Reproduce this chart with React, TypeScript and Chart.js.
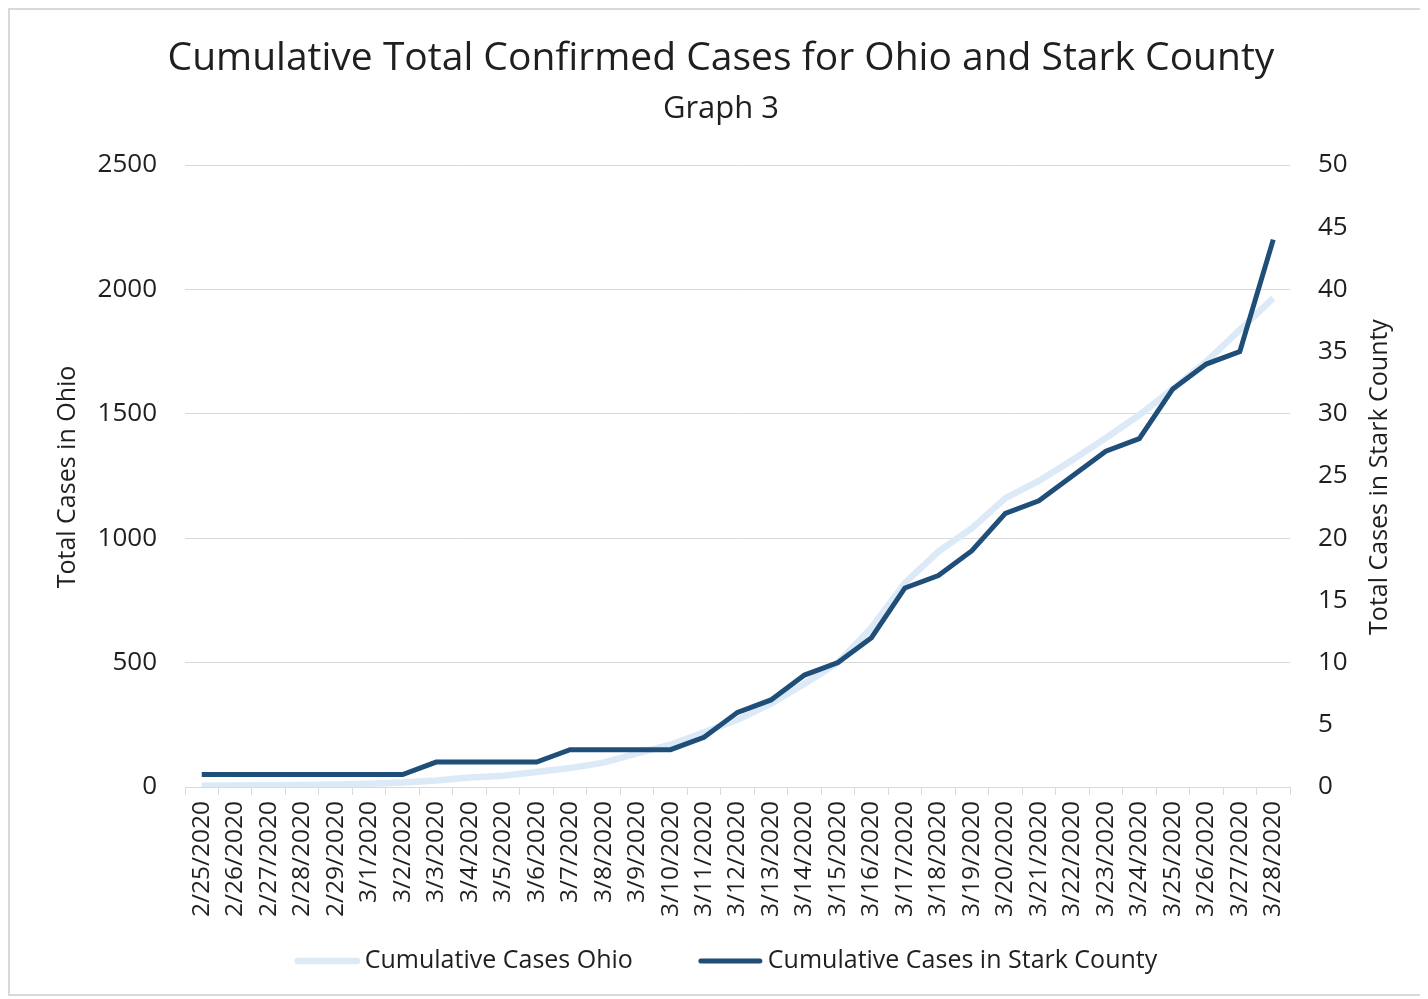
import React, { useEffect, useRef } from "react";
import { Chart, registerables } from "chart.js";

Chart.register(...registerables);

const categories = [
  "2/25/2020", "2/26/2020", "2/27/2020", "2/28/2020", "2/29/2020",
  "3/1/2020", "3/2/2020", "3/3/2020", "3/4/2020", "3/5/2020", "3/6/2020",
  "3/7/2020", "3/8/2020", "3/9/2020", "3/10/2020", "3/11/2020", "3/12/2020",
  "3/13/2020", "3/14/2020", "3/15/2020", "3/16/2020", "3/17/2020", "3/18/2020",
  "3/19/2020", "3/20/2020", "3/21/2020", "3/22/2020", "3/23/2020", "3/24/2020",
  "3/25/2020", "3/26/2020", "3/27/2020", "3/28/2020",
];

const ohioCases = [
  5, 6, 7, 8, 10, 13, 18, 26, 38, 45, 60, 76, 98, 135, 170, 220, 270,
  335, 415, 500, 640, 820, 946, 1040, 1161, 1230, 1314, 1403, 1495,
  1600, 1710, 1837, 1965,
];

const starkCases = [
  1, 1, 1, 1, 1, 1, 1, 2, 2, 2, 2, 3, 3, 3, 3, 4, 6, 7, 9, 10, 12, 16, 17,
  19, 22, 23, 25, 27, 28, 32, 34, 35, 44,
];

const leftTicks = [0, 500, 1000, 1500, 2000, 2500];
const rightTicks = [0, 5, 10, 15, 20, 25, 30, 35, 40, 45, 50];

const chartTitle = "Cumulative Total Confirmed Cases for Ohio and Stark County";
const chartSubtitle = "Graph 3";
const leftAxisTitle = "Total Cases in Ohio";
const rightAxisTitle = "Total Cases in Stark County";
const ohioLabel = "Cumulative Cases Ohio";
const starkLabel = "Cumulative Cases in Stark County";

const FONT = "'Open Sans', 'Noto Sans', sans-serif";
const TEXT = "#1f1f1f";

export default function App() {
  const ref = useRef<HTMLCanvasElement | null>(null);

  useEffect(() => {
    if (!ref.current) return;
    const textPlugin = {
      id: "customText",
      afterDraw(chart: any) {
        const ctx = chart.ctx;
        const area = chart.chartArea;
        ctx.save();
        ctx.fillStyle = TEXT;
        ctx.textAlign = "center";
        ctx.textBaseline = "middle";
        ctx.font = `39px ${FONT}`;
        ctx.fillText(chartTitle, 711, 49);
        ctx.font = `31px ${FONT}`;
        ctx.fillText(chartSubtitle, 711, 99);
        const midY = (area.top + area.bottom) / 2;
        ctx.font = `25px ${FONT}`;
        ctx.save();
        ctx.translate(58, midY + 1);
        ctx.rotate(-Math.PI / 2);
        ctx.fillText(leftAxisTitle, 0, 0);
        ctx.restore();
        ctx.save();
        ctx.translate(1370, midY + 1);
        ctx.rotate(-Math.PI / 2);
        ctx.fillText(rightAxisTitle, 0, 0);
        ctx.restore();

        // legend
        const ds = chart.data.datasets;
        ctx.font = `25px ${FONT}`;
        ctx.textAlign = "left";
        const sample = 65;
        const gapText = 5;
        const gapItem = 65;
        const widths = ds.map((d: any) => ctx.measureText(d.label).width);
        const total =
          widths.reduce((a: number, w: number) => a + sample + gapText + w, 0) +
          gapItem * (ds.length - 1);
        let x = 716 - total / 2;
        const ly = 951;
        ds.forEach((d: any, i: number) => {
          ctx.strokeStyle = d.borderColor;
          ctx.lineWidth = d.borderWidth;
          ctx.lineCap = "round";
          ctx.beginPath();
          ctx.moveTo(x + 3, ly);
          ctx.lineTo(x + sample - 3, ly);
          ctx.stroke();
          ctx.fillStyle = TEXT;
          ctx.fillText(d.label, x + sample + gapText, ly);
          x += sample + gapText + widths[i] + gapItem;
        });
        ctx.restore();
      },
    };

    const plainTick = (v: any) => String(v);

    const chart = new Chart(ref.current, {
      type: "line",
      data: {
        labels: categories,
        datasets: [
          {
            label: ohioLabel,
            data: ohioCases,
            yAxisID: "y",
            borderColor: "#dce9f6",
            backgroundColor: "#dce9f6",
            borderWidth: 6.5,
            pointRadius: 0,
            tension: 0,
            order: 2,
          },
          {
            label: starkLabel,
            data: starkCases,
            yAxisID: "y1",
            borderColor: "#1f4e79",
            backgroundColor: "#1f4e79",
            borderWidth: 5,
            pointRadius: 0,
            tension: 0,
            order: 1,
          },
        ],
      },
      options: {
        responsive: false,
        animation: false,
        layout: { padding: { top: 155, left: 0, right: 0, bottom: 77 } },
        plugins: {
          title: { display: false },
          tooltip: { enabled: false },
          legend: { display: false },
        },
        scales: {
          x: {
            offset: true,
            grid: {
              offset: true,
              drawOnChartArea: false,
              drawTicks: true,
              tickLength: 8,
              color: "#d9d9d9",
            },
            border: { display: true, color: "#d9d9d9", width: 1 },
            ticks: {
              autoSkip: false,
              maxRotation: 90,
              minRotation: 90,
              padding: 6,
              color: TEXT,
              font: { family: FONT, size: 24.5 },
            },
            afterFit(scale: any) {
              scale.height = 130;
            },
          },
          y: {
            position: "left",
            min: 0,
            max: 2500,
            afterBuildTicks(scale: any) {
              scale.ticks = leftTicks.map((v) => ({ value: v }));
            },
            grid: { color: "#d9d9d9", drawTicks: false, lineWidth: 1 },
            border: { display: false },
            ticks: {
              padding: 28,
              color: TEXT,
              font: { family: FONT, size: 26 },
              callback: plainTick,
            },
            afterFit(scale: any) {
              scale.width = 175;
            },
          },
          y1: {
            position: "right",
            min: 0,
            max: 50,
            afterBuildTicks(scale: any) {
              scale.ticks = rightTicks.map((v) => ({ value: v }));
            },
            grid: { drawOnChartArea: false, drawTicks: false },
            border: { display: false },
            ticks: {
              padding: 28,
              color: TEXT,
              font: { family: FONT, size: 26 },
              callback: plainTick,
            },
            afterFit(scale: any) {
              scale.width = 130;
            },
          },
        },
      },
      plugins: [textPlugin],
    });
    return () => chart.destroy();
  }, []);

  return (
    <div
      style={{
        width: 1412,
        height: 988,
        boxSizing: "border-box",
        borderTop: "2px solid #d9d9d9",
        borderLeft: "2px solid #d9d9d9",
        borderBottom: "2px solid #d9d9d9",
        background: "#fff",
        overflow: "hidden",
      }}
    >
      <canvas ref={ref} width={1410} height={984} style={{ display: "block" }} />
    </div>
  );
}
